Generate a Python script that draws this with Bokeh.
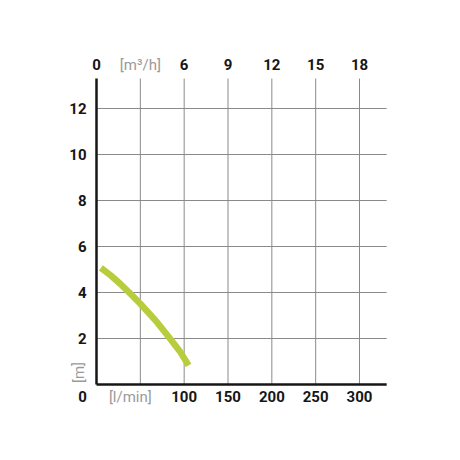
from bokeh.plotting import figure
from bokeh.models import Range1d, ColumnDataSource
from bokeh.core.properties import value
from bokeh.embed import file_html
from bokeh.resources import INLINE

# data
flow_lmin = [5, 16, 27, 38, 50, 69, 84, 95, 105]
head_m = [5.07, 4.75, 4.38, 3.97, 3.51, 2.71, 1.99, 1.45, 0.83]

x_ticks = [100, 150, 200, 250, 300]
x_labels = ["100", "150", "200", "250", "300"]
x_grid = [50, 100, 150, 200, 250, 300]
top_ticks_lmin = [0, 100, 150, 200, 250, 300]
top_labels = ["0", "6", "9", "12", "15", "18"]
y_ticks = [2, 4, 6, 8, 10, 12]
y_labels = ["2", "4", "6", "8", "10", "12"]
X_MAX = 331
Y_MAX = 13.3

FONT = "Roboto"
GREEN = "#b8cc3c"
GRAY = "#9a9a9a"
DARK = "#161616"
GRID = "#8a8a8a"
FS = "15px"

# frame covers whole canvas so that outside labels are not clipped
PX_PER_X = 0.8767
PX_PER_Y = 23.0
W, H = 444, 444
LEFT, BASE = 96, 384
p = figure(width=W, height=H, output_backend="svg", toolbar_location=None,
           x_range=Range1d(-LEFT / PX_PER_X, (W - LEFT) / PX_PER_X),
           y_range=Range1d(-(H - BASE) / PX_PER_Y, BASE / PX_PER_Y),
           min_border=0, x_axis_location=None, y_axis_location=None)
p.outline_line_color = None
p.xgrid.visible = False
p.ygrid.visible = False
p.background_fill_color = "white"
p.border_fill_color = "white"

# grid lines
p.segment(x0=x_grid, y0=[0] * len(x_grid), x1=x_grid, y1=[Y_MAX] * len(x_grid),
          line_color=GRID, line_width=1)
p.segment(x0=[0] * len(y_ticks), y0=y_ticks, x1=[X_MAX] * len(y_ticks), y1=y_ticks,
          line_color=GRID, line_width=1)

# axis lines
p.segment(x0=[0, 0], y0=[0, 0], x1=[X_MAX, 0], y1=[0, Y_MAX],
          line_color=DARK, line_width=2.5)

# curve
src = ColumnDataSource(dict(x=flow_lmin, y=head_m))
p.line("x", "y", source=src, line_color=GREEN, line_width=6.5, line_cap="butt",
       line_join="round")

def txt(x, y, t, color=DARK, bold=True, **kw):
    p.text(x=x, y=y, text=t, text_font=value(FONT), text_font_size=FS,
           text_font_style="bold" if bold else "normal", text_color=color, **kw)

# tick labels
txt([0] * len(y_ticks), y_ticks, y_labels, text_align="right",
    text_baseline="middle", x_offset=-10)
txt(x_ticks, [0] * len(x_ticks), x_labels, text_align="center",
    text_baseline="middle", y_offset=12)
txt(top_ticks_lmin, [Y_MAX] * len(top_ticks_lmin), top_labels, text_align="center",
    text_baseline="middle", y_offset=-14)
txt([0], [0], ["0"], text_align="center", text_baseline="middle",
    x_offset=-14, y_offset=12)

# unit labels
txt([50], [Y_MAX], ["[m³/h]"], color=GRAY, bold=False, text_align="center",
    text_baseline="middle", y_offset=-14)
txt([50], [0], ["[l/min]"], color=GRAY, bold=False, text_align="center",
    text_baseline="middle", x_offset=-10, y_offset=12)
txt([0], [0], ["[m]"], color=GRAY, bold=False, text_align="center",
    text_baseline="middle", angle=1.5708, x_offset=-18, y_offset=-12)

open("out.html", "w").write(file_html(p, INLINE))
